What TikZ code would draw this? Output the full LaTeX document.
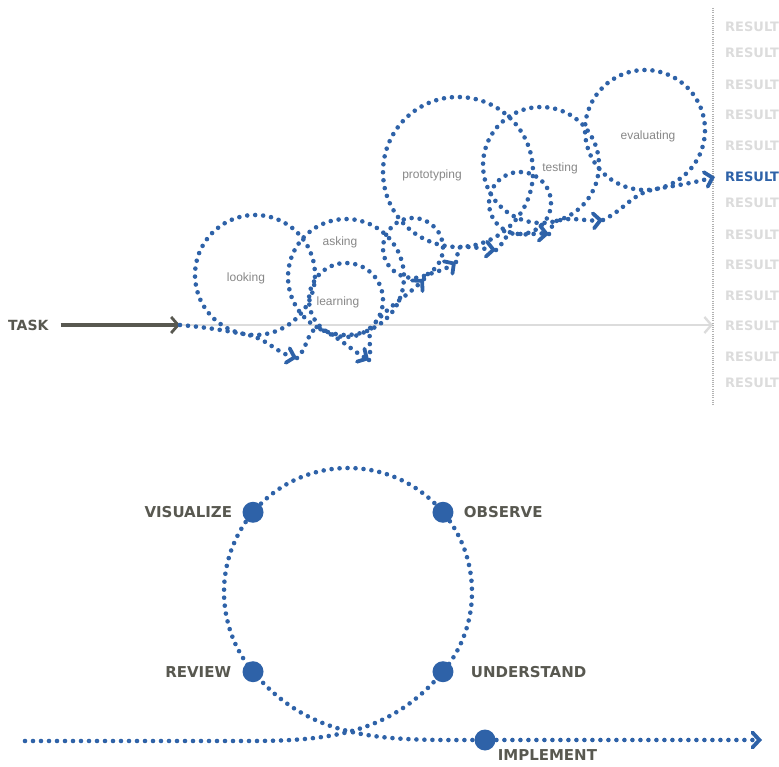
\documentclass[tikz,border=0pt]{standalone}
\usepackage{fontspec}
\setmainfont{DejaVu Sans}
\newfontfamily\wordfont{Liberation Sans}
\usetikzlibrary{positioning}
\usetikzlibrary{arrows.meta}
\usetikzlibrary{calc}
\definecolor{loopblue}{RGB}{46,98,168}
\definecolor{taskgray}{RGB}{88,88,80}
\definecolor{railgray}{RGB}{220,220,220}
\definecolor{resultgray}{RGB}{220,220,220}
\definecolor{wordgray}{RGB}{135,135,135}
\tikzset{
    trail/.style = {draw=loopblue, line width=4.6pt, line cap=round, dash pattern=on 0pt off 8pt},
    trailend/.style = {trail, -{Straight Barb[length=7pt,width=15pt,line width=3.8pt,line cap=round]}},
    taskline/.style = {draw=taskgray, line width=3.2pt, -{Straight Barb[length=7pt,width=16pt,line width=2.8pt]}},
    railline/.style = {draw=railgray, line width=2.8pt, -{Straight Barb[length=7pt,width=16pt,line width=2.4pt]}},
    capsword/.style = {inner sep=0pt, text=taskgray, font=\fontsize{15}{15}\selectfont\bfseries},
    result/.style = {inner sep=0pt, anchor=west, text=resultgray, font=\fontsize{13}{13}\selectfont\bfseries},
    loopword/.style = {inner sep=0pt, text=wordgray, font=\wordfont\fontsize{12}{12}\selectfont},
    stop/.style = {circle, fill=loopblue, minimum size=21pt, inner sep=0pt}
}

\begin{document}
\begin{tikzpicture}[x=1pt,y=1pt]
  \useasboundingbox (0,0) rectangle (779,766);

  % task and the straight way
  \node[capsword, font=\fontsize{14}{14}\selectfont\bfseries, anchor=west] (task) at (8,441) {TASK};
  \coordinate (t0) at (180,441);
  \coordinate (railend) at (713,441);
  \draw[railline] (t0) -- (railend);
  \draw[taskline, shorten <=12pt] (task.east) -- (t0);

  % results
  \draw[draw=gray!60, line width=1.2pt, dash pattern=on 1pt off 1.2pt] (713,758) -- (713,361);
  \foreach \y/\i in {739/1,713/2,681/3,651/4,620/5,563/7,531/8,501/9,470/10,440/11,409/12,383/13}
    \node[result] (r\i) at (725,\y) {RESULT};
  \node[result, text=loopblue] (r6) at (725,589) {RESULT};

  % arrow tips of the winding way
  \coordinate (a1) at (297,408);
  \coordinate (a2) at (369,406);
  \coordinate (a3) at (424,487);
  \coordinate (a4) at (456,504);
  \coordinate (a5) at (496,516);
  \coordinate (a6) at (549,532);
  \coordinate (a7) at (603,546);
  \coordinate (a8) at (715,589);
  % loop centres
  \coordinate (cl) at (255,491);
  \coordinate (ca) at (346,489);
  \coordinate (cn) at (346,466);
  \coordinate (cs) at (413,518);
  \coordinate (cp) at (458,594);
  \coordinate (ct) at (520,563);
  \coordinate (cg) at (541,601);
  \coordinate (ce) at (645,636);

  \draw[trailend] (t0) to[out=-5,in=170] ($(cl)+(-100:60)$) arc[start angle=-100,delta angle=360,radius=60] to[out=-10,in=165] (a1);
  \draw[trailend] (a1) to[out=40,in=155] ($(ca)+(-115:58)$) arc[start angle=-115,delta angle=360,radius=58] to[out=-25,in=150] (a2);
  \draw[trailend] (a2) to[out=75,in=230] ($(cn)+(-40:37)$) arc[start angle=-40,delta angle=360,radius=37] to[out=50,in=225] (a3);
  \draw[trailend] (a3) to[out=50,in=200] ($(cs)+(-70:30)$) arc[start angle=-70,delta angle=360,radius=30] to[out=20,in=215] (a4);
  \draw[trailend] (a4) to[out=50,in=182] ($(cp)+(-88:75)$) arc[start angle=-88,delta angle=360,radius=75] to[out=2,in=175] (a5);
  \draw[trailend] (a5) to[out=35,in=170] ($(ct)+(-100:31)$) arc[start angle=-100,delta angle=360,radius=31] to[out=-10,in=175] (a6);
  \draw[trailend] (a6) to[out=45,in=195] ($(cg)+(-75:58)$) arc[start angle=-75,delta angle=360,radius=58] to[out=15,in=185] (a7);
  \draw[trailend] (a7) to[out=25,in=190] ($(ce)+(-80:60)$) arc[start angle=-80,delta angle=360,radius=60] to[out=10,in=195] (a8);

  \node[loopword] (looking) at (246,488) {looking};
  \node[loopword] (asking) at (340,524) {asking};
  \node[loopword] (learning) at (338,464) {learning};
  \node[loopword] (prototyping) at (432,591) {prototyping};
  \node[loopword] (testing) at (560,598) {testing};
  \node[loopword] (evaluating) at (648,630) {evaluating};

  % the cycle
  \coordinate (cc) at (348,174);
  \coordinate (lstart) at (25,25);
  \coordinate (lbend) at (250,25);
  \coordinate (p-und) at ($(cc)+(-40:124)$);
  \coordinate (p-obs) at ($(cc)+(40:124)$);
  \coordinate (p-vis) at ($(cc)+(140:124)$);
  \coordinate (p-rev) at ($(cc)+(220:124)$);
  \coordinate (p-impl) at (485,26);
  \coordinate (lend) at (762,26);
  \draw[trailend] (lstart) -- (lbend) to[out=0,in=230] (p-und) arc[start angle=-40,end angle=220,radius=124] to[out=-50,in=180] (p-impl) -- (lend);

  \node[stop, label={[capsword, label distance=10pt]left:VISUALIZE}] (vis) at (p-vis) {};
  \node[stop, label={[capsword, label distance=10pt]right:OBSERVE}] (obs) at (p-obs) {};
  \node[stop, label={[capsword, label distance=11pt]left:REVIEW}] (rev) at (p-rev) {};
  \node[stop, label={[capsword, label distance=17pt]right:UNDERSTAND}] (und) at (p-und) {};
  \node[stop] (impl) at (p-impl) {};
  \node[capsword, anchor=north west] (impltext) at ([xshift=5pt,yshift=-2pt]impl.south east) {IMPLEMENT};
\end{tikzpicture}
\end{document}
